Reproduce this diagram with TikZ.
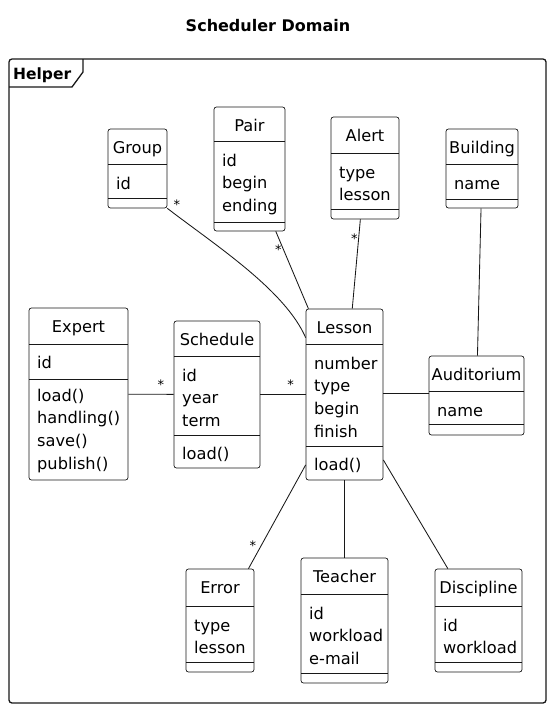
\documentclass[tikz,border=0pt]{standalone}
\usepackage{fontspec}
\setmainfont{DejaVu Sans}
\usetikzlibrary{fit,positioning}
\definecolor{ink}{RGB}{24,24,24}
\tikzset{
  cls/.style={draw=ink,line width=0.7pt,rounded corners=2.5pt,inner sep=0pt},
  ttl/.style={anchor=base,inner sep=0pt,font=\fontsize{16.2}{20}\selectfont},
  row/.style={anchor=base west,inner sep=0pt,font=\fontsize{16.2}{20}\selectfont},
  link/.style={line width=0.85pt,draw=ink},
  mult/.style={font=\fontsize{13}{13}\selectfont,inner sep=1.5pt},
  frame/.style={draw=ink,line width=1.3pt}
}
% box: name, left, top, right, bottom, sep1, sep2, title
\newcommand{\umlbox}[8]{%
  \node[cls,fit={(#2,#3) (#4,#5)}] (#1) {};
  \draw[cls] (#2,#6) -- (#4,#6) (#2,#7) -- (#4,#7);
  \node[ttl] (#1-t) at ({(#2+#4)/2},{#3+24.5}) {#8};
}
% rows: prefix, left, first baseline, list
\newcommand{\umlrows}[4]{%
  \foreach \txt [count=\i from 0] in {#4}
    \node[row] (#1-\i) at ({#2+8},{#3+22.7*\i}) {\txt};
}
\begin{document}
\begin{tikzpicture}[x=1pt,y=-1pt]
  \useasboundingbox (0,0) rectangle (552,710);
  \node[anchor=base,inner sep=0pt,font=\fontsize{16}{20}\selectfont\bfseries] (title) at (268,31) {Scheduler Domain};

  % package frame
  \draw[frame,rounded corners=3pt] (9,59) rectangle (546,703);
  \draw[frame] (9,87) -- (72,87) -- (83,72) -- (83,59);
  \node[anchor=base west,inner sep=0pt,font=\fontsize{15.5}{18}\selectfont\bfseries] (helper) at (13,79) {Helper};

  % classes
  \umlbox{group}{108}{129}{167}{208}{164}{198}{Group}
  \umlrows{group-a}{108}{189}{id}
  \umlbox{pair}{214}{107}{285}{231}{141}{222}{Pair}
  \umlrows{pair-a}{214}{166}{id,begin,ending}
  \umlbox{alert}{331}{117}{399}{219}{153}{209}{Alert}
  \umlrows{alert-a}{331}{178}{type,lesson}
  \umlbox{building}{446}{129}{518}{208}{164}{199}{Building}
  \umlrows{building-a}{446}{189}{name}
  \umlbox{auditorium}{429}{356}{524}{435}{391}{424}{Auditorium}
  \umlrows{auditorium-a}{429}{416}{name}
  \umlbox{lesson}{306}{309}{383}{480}{344}{446}{Lesson}
  \umlrows{lesson-a}{306}{369}{number,type,begin,finish}
  \umlrows{lesson-m}{306}{470}{load()}
  \umlbox{schedule}{174}{321}{260}{468}{356}{435}{Schedule}
  \umlrows{schedule-a}{174}{381}{id,year,term}
  \umlrows{schedule-m}{174}{459}{load()}
  \umlbox{expert}{29}{308}{128}{480}{344}{379}{Expert}
  \umlrows{expert-a}{29}{368}{id}
  \umlrows{expert-m}{29}{401}{load(),handling(),save(),publish()}
  \umlbox{error}{186}{569}{254}{672}{606}{662}{Error}
  \umlrows{error-a}{186}{631}{type,lesson}
  \umlbox{teacher}{301}{558}{388}{683}{594}{673}{Teacher}
  \umlrows{teacher-a}{301}{619}{id,workload,e-mail}
  \umlbox{discipline}{435}{569}{522}{672}{606}{662}{Discipline}
  \umlrows{discipline-a}{435}{631}{id,workload}

  % associations
  \draw[link] (group.south east) .. controls (215,245) and (285,290) .. ([yshift=-29pt]lesson.north west)
    node[mult,pos=0.03,above right] {*};
  \draw[link] (pair) -- node[mult,pos=0.24,left] {*} (lesson);
  \draw[link] (alert) -- node[mult,pos=0.22,left=-1pt] {*} (lesson);
  \draw[link] (building) -- (auditorium);
  \draw[link] ([yshift=1pt]lesson.east) -- ([yshift=1pt]lesson.east -| auditorium.west);
  \draw[link] (expert) -- node[mult,pos=0.72,above=3pt] {*} (schedule);
  \draw[link] (schedule) -- node[mult,pos=0.67,above=3pt] {*} (lesson);
  \draw[link] (lesson) -- node[mult,pos=0.78,left=3pt] {*} (error);
  \draw[link] (lesson) -- (teacher);
  \draw[link] (lesson) -- (discipline);
\end{tikzpicture}
\end{document}
